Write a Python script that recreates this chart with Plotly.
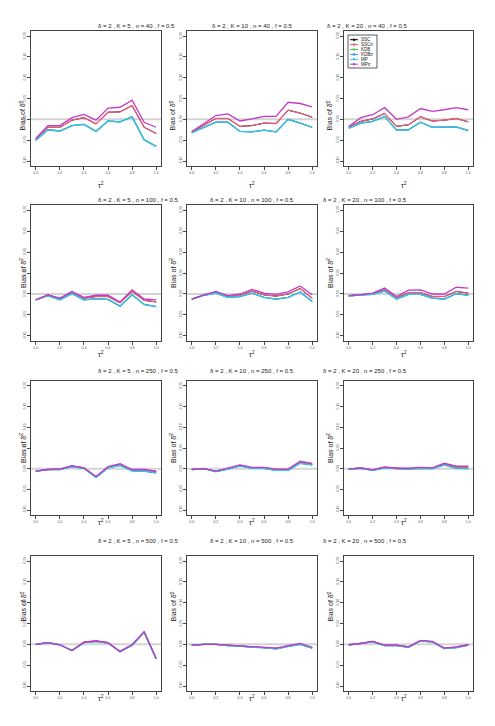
import plotly.graph_objects as go
from plotly.subplots import make_subplots

# the page body has an 8px margin, so the figure is drawn 8px in from the corner
OFFSET = 8
W, H = 495 - OFFSET, 726 - OFFSET

TAU2 = [0.0, 0.1, 0.2, 0.3, 0.4, 0.5, 0.6, 0.7, 0.8, 0.9, 1.0]
X_TICKS = [0.0, 0.2, 0.4, 0.6, 0.8, 1.0]
X_TICK_TEXT = ['0.0', '0.2', '0.4', '0.6', '0.8', '1.0']
Y_TICKS = [-0.10, -0.05, 0.00, 0.05, 0.10, 0.15, 0.20]
Y_TICK_TEXT = ['-0.10', '-0.05', '0.00', '0.05', '0.10', '0.15', '0.20']

K_VALUES = [5, 10, 20]
N_VALUES = [40, 100, 250, 500]

METHODS = ['SSC', 'SSCtr', 'KDB', 'KDBtr', 'MP', 'MPtr']
COLORS = ['#000000', '#E35D7C', '#4CC84C', '#3A8EF0', '#3CC6E6', '#C23AC8']

### n = 40 ###
HIGH_K5_N40 = [-0.046, -0.015, -0.015, 0.004, 0.012, -0.002, 0.027, 0.029, 0.046, -0.007, -0.019]
MID_K5_N40 = [-0.048, -0.019, -0.019, -0.002, 0.004, -0.011, 0.017, 0.018, 0.033, -0.019, -0.034]
LOW_K5_N40 = [-0.050, -0.025, -0.028, -0.015, -0.012, -0.029, -0.004, -0.006, 0.006, -0.049, -0.065]

HIGH_K10_N40 = [-0.029, -0.010, 0.009, 0.013, -0.004, 0.001, 0.007, 0.007, 0.041, 0.038, 0.030]
MID_K10_N40 = [-0.030, -0.014, 0.002, 0.002, -0.017, -0.015, -0.009, -0.010, 0.022, 0.015, 0.005]
LOW_K10_N40 = [-0.032, -0.020, -0.007, -0.007, -0.029, -0.030, -0.026, -0.030, 0.000, -0.009, -0.019]

HIGH_K20_N40 = [-0.017, 0.004, 0.011, 0.028, 0.000, 0.006, 0.026, 0.019, 0.023, 0.028, 0.023]
MID_K20_N40 = [-0.018, -0.005, 0.001, 0.014, -0.017, -0.013, 0.006, -0.004, -0.002, 0.002, -0.006]
LOW_K20_N40 = [-0.021, -0.009, -0.005, 0.007, -0.026, -0.025, -0.007, -0.019, -0.019, -0.018, -0.027]

### n = 100 ###
HIGH_K5_N100 = [-0.014, -0.002, -0.010, 0.006, -0.008, -0.003, -0.003, -0.019, 0.010, -0.012, -0.014]
MID_K5_N100 = [-0.014, -0.002, -0.011, 0.004, -0.010, -0.006, -0.006, -0.021, 0.006, -0.015, -0.019]
LOW_K5_N100 = [-0.014, -0.004, -0.014, 0.001, -0.014, -0.011, -0.013, -0.029, -0.002, -0.025, -0.030]

HIGH_K10_N100 = [-0.012, -0.002, 0.006, -0.004, 0.000, 0.011, 0.002, -0.001, 0.005, 0.019, -0.002]
MID_K10_N100 = [-0.012, -0.003, 0.004, -0.006, -0.003, 0.007, -0.002, -0.005, 0.000, 0.013, -0.010]
LOW_K10_N100 = [-0.012, -0.003, 0.002, -0.008, -0.006, 0.002, -0.008, -0.012, -0.008, 0.005, -0.018]

HIGH_K20_N100 = [-0.004, -0.002, 0.002, 0.014, -0.006, 0.009, 0.010, 0.000, 0.000, 0.016, 0.014]
MID_K20_N100 = [-0.004, -0.002, 0.001, 0.010, -0.009, 0.003, 0.003, -0.006, -0.006, 0.006, 0.002]
LOW_K20_N100 = [-0.005, -0.002, -0.001, 0.007, -0.012, -0.001, -0.001, -0.010, -0.012, 0.001, -0.003]

### n = 250 ###
HIGH_K5_N250 = [-0.006, -0.002, -0.001, 0.007, 0.002, -0.019, 0.005, 0.012, -0.002, -0.002, -0.006]
MID_K5_N250 = [-0.006, -0.002, -0.001, 0.006, 0.002, -0.020, 0.004, 0.010, -0.003, -0.003, -0.007]
LOW_K5_N250 = [-0.006, -0.002, -0.002, 0.005, 0.001, -0.021, 0.002, 0.008, -0.005, -0.006, -0.010]

HIGH_K10_N250 = [-0.002, 0.000, -0.006, 0.001, 0.009, 0.003, 0.003, -0.001, -0.001, 0.018, 0.013]
MID_K10_N250 = [-0.002, 0.000, -0.006, 0.000, 0.008, 0.002, 0.002, -0.002, -0.002, 0.016, 0.011]
LOW_K10_N250 = [-0.002, 0.000, -0.007, -0.001, 0.007, 0.001, 0.001, -0.004, -0.004, 0.013, 0.009]

HIGH_K20_N250 = [-0.001, 0.002, -0.003, 0.004, 0.001, 0.001, 0.003, 0.002, 0.013, 0.006, 0.006]
MID_K20_N250 = [-0.001, 0.002, -0.003, 0.003, 0.001, 0.000, 0.002, 0.001, 0.011, 0.004, 0.004]
LOW_K20_N250 = [-0.001, 0.001, -0.004, 0.002, 0.000, -0.001, 0.001, 0.000, 0.009, 0.001, 0.000]

### n = 500 ###
HIGH_K5_N500 = [0.000, 0.004, -0.001, -0.015, 0.005, 0.008, 0.004, -0.017, -0.001, 0.030, -0.034]
MID_K5_N500 = [0.000, 0.004, -0.001, -0.015, 0.005, 0.008, 0.004, -0.017, -0.001, 0.030, -0.034]
LOW_K5_N500 = [0.000, 0.004, -0.001, -0.015, 0.004, 0.007, 0.003, -0.018, -0.002, 0.029, -0.035]

HIGH_K10_N500 = [-0.002, 0.000, 0.000, -0.002, -0.003, -0.006, -0.007, -0.009, -0.003, 0.002, -0.007]
MID_K10_N500 = [-0.002, 0.000, 0.000, -0.002, -0.003, -0.006, -0.007, -0.010, -0.004, 0.001, -0.008]
LOW_K10_N500 = [-0.002, 0.000, 0.000, -0.003, -0.004, -0.007, -0.008, -0.011, -0.005, 0.000, -0.009]

HIGH_K20_N500 = [-0.001, 0.002, 0.007, -0.002, -0.002, -0.006, 0.009, 0.007, -0.009, -0.006, -0.001]
MID_K20_N500 = [-0.001, 0.002, 0.007, -0.002, -0.002, -0.006, 0.009, 0.006, -0.009, -0.007, -0.001]
LOW_K20_N500 = [-0.001, 0.002, 0.006, -0.003, -0.003, -0.007, 0.008, 0.006, -0.010, -0.008, -0.002]

PANELS = [
    [(HIGH_K5_N40, MID_K5_N40, LOW_K5_N40),
     (HIGH_K10_N40, MID_K10_N40, LOW_K10_N40),
     (HIGH_K20_N40, MID_K20_N40, LOW_K20_N40)],
    [(HIGH_K5_N100, MID_K5_N100, LOW_K5_N100),
     (HIGH_K10_N100, MID_K10_N100, LOW_K10_N100),
     (HIGH_K20_N100, MID_K20_N100, LOW_K20_N100)],
    [(HIGH_K5_N250, MID_K5_N250, LOW_K5_N250),
     (HIGH_K10_N250, MID_K10_N250, LOW_K10_N250),
     (HIGH_K20_N250, MID_K20_N250, LOW_K20_N250)],
    [(HIGH_K5_N500, MID_K5_N500, LOW_K5_N500),
     (HIGH_K10_N500, MID_K10_N500, LOW_K10_N500),
     (HIGH_K20_N500, MID_K20_N500, LOW_K20_N500)],
]

# plot boxes in window pixels (left, right) and (top, bottom)
COL_PX = [(31, 161), (187, 317), (344, 473)]
ROW_PX = [(31, 166), (205, 341), (381, 515), (556, 691)]

FONT = 'Liberation Sans, Arial, sans-serif'


def px_x(x):
    return (x - OFFSET) / W


def px_y(y):
    return 1 - (y - OFFSET) / H


fig = make_subplots(rows=4, cols=3)

for r in range(4):
    for c in range(3):
        high, mid, low = PANELS[r][c]
        # drawing order: SSC, SSCtr, KDB, KDBtr, MP, MPtr
        series = [mid, mid, low, low, low, high]
        widths = [1.0, 1.3, 1.3, 1.3, 1.1, 1.3]
        for name, ys, color, w in zip(METHODS, series, COLORS, widths):
            fig.add_trace(
                go.Scatter(x=TAU2, y=ys, mode='lines', name=name,
                           line=dict(color=color, width=w), showlegend=False),
                row=r + 1, col=c + 1
            )
        fig.add_hline(y=0, line=dict(color='#D4D4D4', width=2), layer='below',
                      row=r + 1, col=c + 1)
        idx = r * 3 + c + 1
        sfx = '' if idx == 1 else str(idx)
        fig.layout['xaxis' + sfx].update(
            domain=[px_x(COL_PX[c][0]), px_x(COL_PX[c][1])],
            range=[-0.04, 1.04], tickvals=X_TICKS, ticktext=X_TICK_TEXT,
            showgrid=False, zeroline=False, showline=True, mirror=True,
            linecolor='#444444', linewidth=1, ticks='outside', ticklen=3,
            tickcolor='#444444', tickfont=dict(size=3.5, color='#555555', family=FONT),
        )
        fig.layout['yaxis' + sfx].update(
            domain=[px_y(ROW_PX[r][1]), px_y(ROW_PX[r][0])],
            range=[-0.112, 0.212], tickvals=Y_TICKS, ticktext=Y_TICK_TEXT,
            showgrid=False, zeroline=False, showline=True, mirror=True,
            linecolor='#444444', linewidth=1, ticks='outside', ticklen=3,
            tickcolor='#444444', tickangle=-90,
            tickfont=dict(size=3.5, color='#555555', family=FONT),
        )
        cx = (COL_PX[c][0] + COL_PX[c][1]) / 2
        fig.add_annotation(
            x=px_x(cx), y=px_y(ROW_PX[r][0] - 10), xref='paper', yref='paper',
            text='δ = 2 , K = %d , n = %d , f = 0.5' % (K_VALUES[c], N_VALUES[r]),
            showarrow=False, font=dict(size=6, color='#222222', family=FONT),
        )
        fig.add_annotation(
            x=px_x(cx), y=px_y(ROW_PX[r][1] + 13), xref='paper', yref='paper',
            text='τ<sup>2</sup>', showarrow=False,
            font=dict(size=7, color='#222222', family=FONT),
        )
        fig.add_annotation(
            x=px_x(COL_PX[c][0] - 14), y=px_y((ROW_PX[r][0] + ROW_PX[r][1]) / 2),
            xref='paper', yref='paper', text='Bias of δ̂<sup>2</sup>', textangle=-90,
            showarrow=False, font=dict(size=7, color='#222222', family=FONT),
        )

### LEGEND (inside the top-right panel) ###
LEG_LEFT, LEG_RIGHT, LEG_TOP, LEG_BOTTOM = 348, 377, 35, 68
fig.add_shape(type='rect', xref='paper', yref='paper',
              x0=px_x(LEG_LEFT), x1=px_x(LEG_RIGHT), y0=px_y(LEG_BOTTOM), y1=px_y(LEG_TOP),
              line=dict(color='#333333', width=0.8), fillcolor='white')
for i, (name, color) in enumerate(zip(METHODS, COLORS)):
    yy = 39.7 + i * 4.9
    fig.add_shape(type='line', xref='paper', yref='paper',
                  x0=px_x(350), x1=px_x(358), y0=px_y(yy), y1=px_y(yy),
                  line=dict(color=color, width=1))
    fig.add_shape(type='circle', xref='paper', yref='paper',
                  x0=px_x(353), x1=px_x(355), y0=px_y(yy + 1), y1=px_y(yy - 1),
                  line=dict(color=color, width=0.5), fillcolor=color)
    fig.add_annotation(x=px_x(359.5), y=px_y(yy), xref='paper', yref='paper',
                       text=name, showarrow=False, xanchor='left', yanchor='middle',
                       borderpad=0, font=dict(size=4.5, color='#222222', family=FONT))

fig.update_layout(
    width=W, height=H, margin=dict(l=0, r=0, t=0, b=0),
    paper_bgcolor='white', plot_bgcolor='white', showlegend=False,
)

fig.write_html("out.html")
